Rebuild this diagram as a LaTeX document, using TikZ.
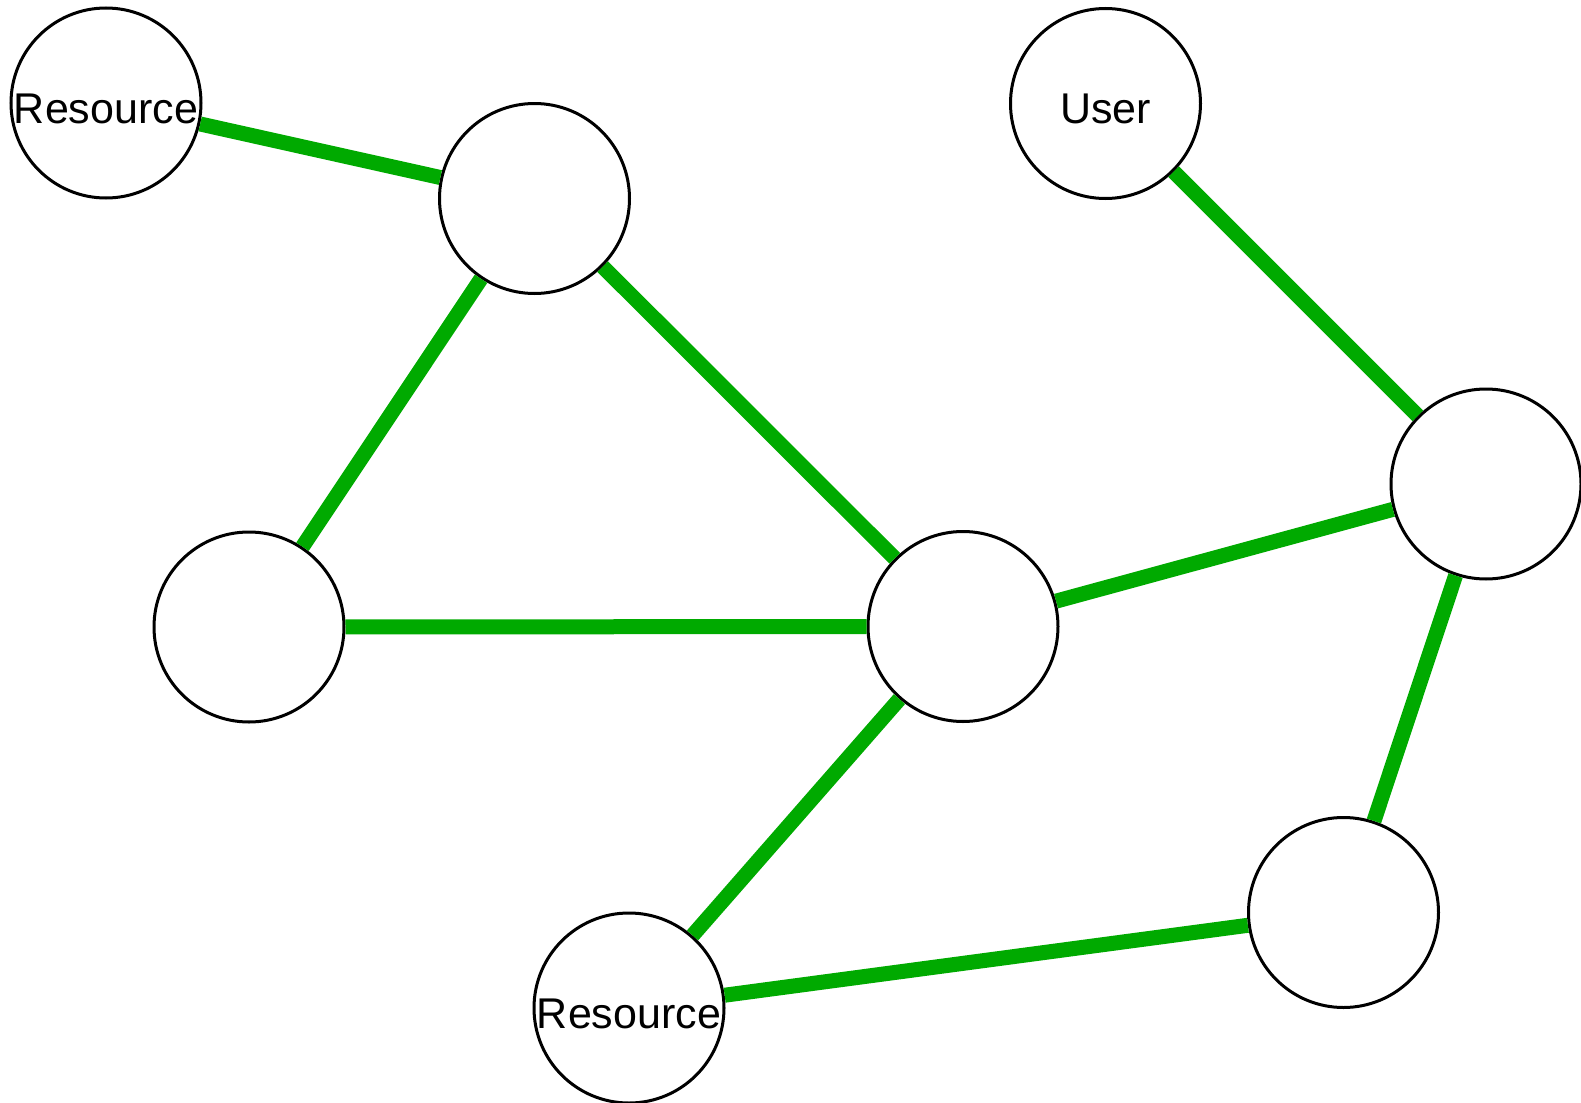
\documentclass[tikz,border=0pt]{standalone}
\usepackage{fontspec}
\setmainfont{Liberation Sans}
\usetikzlibrary{positioning}

\definecolor{linkgreen}{RGB}{0,170,0}

\begin{document}
\begin{tikzpicture}[
    x=0.5pt, y=-0.5pt,
    font=\fontsize{21.5}{25}\selectfont
]
\tikzset{
    peer/.style = {circle, draw=black, line width=1.5pt, fill=white, minimum size=95pt, inner sep=0pt,
                   text height=20pt, text depth=0pt, align=center},
    link/.style = {-, line width=7.5pt, linkgreen, line cap=butt}
}
\useasboundingbox (0,0) rectangle (1581,1103);
\node[peer] at (106,103) (res1) {Resource};
\node[peer] at (534.5,198.5) (a) {};
\node[peer] at (1105.5,103.5) (user) {User};
\node[peer] at (249,627) (b) {};
\node[peer] at (963,626.5) (c) {};
\node[peer] at (1486,484) (d) {};
\node[peer] at (1343.5,912.5) (e) {};
\node[peer] at (629,1008) (res2) {Resource};
\draw[link] (res1) edge (a);
\draw[link] (a) edge (b);
\draw[link] (a) edge (c);
\draw[link] (b) edge (c);
\draw[link] (c) edge (d);
\draw[link] (user) edge (d);
\draw[link] (d) edge (e);
\draw[link] (c) edge (res2);
\draw[link] (res2) edge (e);
\end{tikzpicture}
\end{document}
